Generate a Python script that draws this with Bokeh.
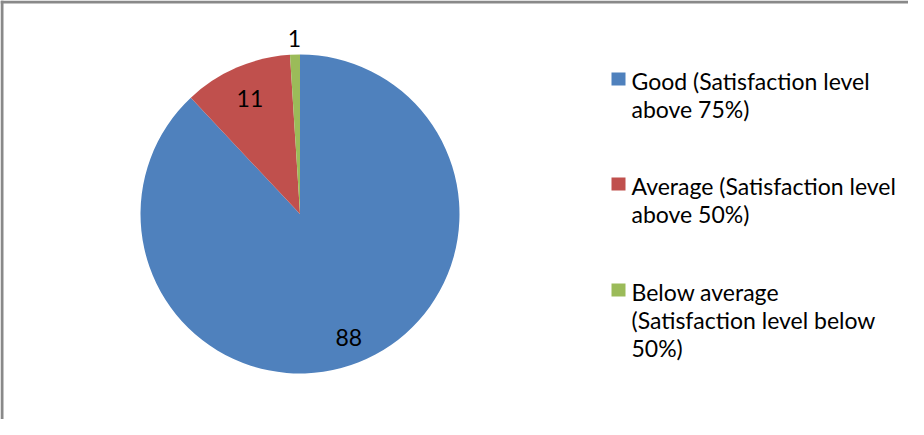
import numpy as np
from bokeh.plotting import figure
from bokeh.models import Range1d, Span, ColumnDataSource
from bokeh.core.properties import value
from bokeh.embed import file_html
from bokeh.resources import INLINE

# ---- data ----
categories = [
    "Good (Satisfaction level\nabove 75%)",
    "Average (Satisfaction level\nabove 50%)",
    "Below average\n(Satisfaction level below\n50%)",
]
values = [88, 11, 1]
colors = ["#4F81BD", "#C0504D", "#9BBB59"]
label_texts = ["88", "11", "1"]

# ---- layout ----
W, H = 908, 419
FONT = "Lato"
FS = "23px"

p = figure(width=W, height=H, output_backend="svg", toolbar_location=None,
           x_range=Range1d(0, W), y_range=Range1d(0, H), min_border=0)
p.axis.visible = False
p.grid.visible = False
p.outline_line_color = None
p.background_fill_color = "white"
p.border_fill_color = "white"

# border (left and top visible)
p.add_layout(Span(location=1.5, dimension="height", line_color="#898989", line_width=3))
p.add_layout(Span(location=H - 1.5, dimension="width", line_color="#898989", line_width=3))

cx, cy, R = 299.5, 205.5, 159.5
vals = np.array(values, dtype=float)
frac = vals / vals.sum()
cum_end = np.cumsum(frac)
cum_start = cum_end - frac
start = np.pi / 2 - cum_end * 2 * np.pi
end = np.pi / 2 - cum_start * 2 * np.pi

src = ColumnDataSource(dict(x=[cx] * len(vals), y=[cy] * len(vals),
                            start=start, end=end, color=colors))
p.wedge(x="x", y="y", radius=R, radius_units="screen", start_angle="start",
        end_angle="end", fill_color="color", line_color=None, source=src)

# data labels
mid = (cum_start + cum_end) / 2 * 2 * np.pi
rf = np.array([0.83, 0.79, 1.1])
lx = cx + np.sin(mid) * R * rf
ly = cy + np.cos(mid) * R * rf
p.text(x=lx, y=ly, text=label_texts, text_align="center", text_baseline="middle",
       text_font=value(FONT), text_font_size=FS, text_color="#000000")

# legend
leg_sq_x = 618
leg_tx = 631
leg_top = [339, 234, 128]
line_h = 28
tx, ty, tt = [], [], []
for cat, yt in zip(categories, leg_top):
    for i, line in enumerate(cat.split("\n")):
        tx.append(leg_tx)
        ty.append(yt - i * line_h)
        tt.append(line)
p.rect(x=[leg_sq_x] * 3, y=[yt + 1.5 for yt in leg_top], width=14, height=13,
       width_units="screen", height_units="screen", fill_color=colors, line_color=None)
p.text(x=tx, y=ty, text=tt, text_align="left", text_baseline="middle",
       text_font=value(FONT), text_font_size=FS, text_color="#000000")

open("out.html", "w").write(file_html(p, INLINE))
